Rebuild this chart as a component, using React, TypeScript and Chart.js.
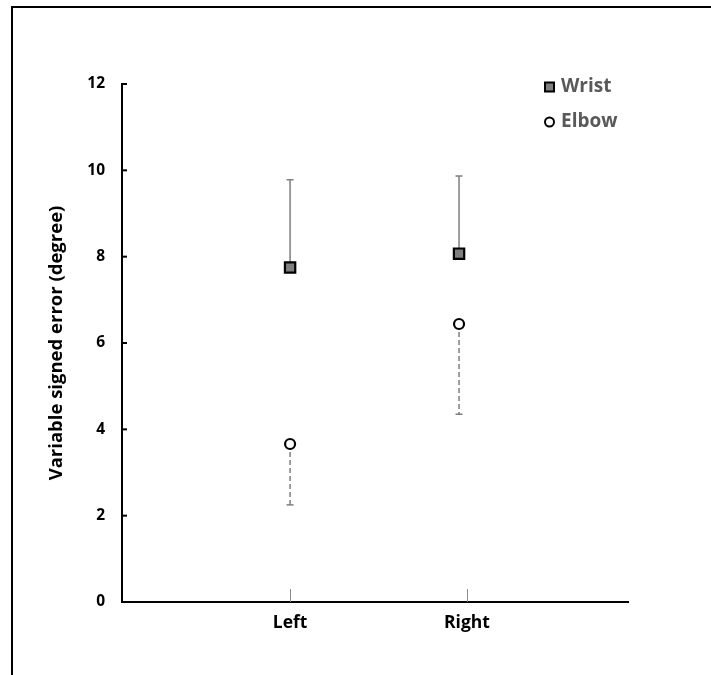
import React, { useEffect, useRef } from "react";
import { Chart, registerables } from "chart.js";

Chart.register(...registerables);

const categories = ["Left", "Right"];
const categoryPositions = [1, 1.955];
const yTicks = [0, 2, 4, 6, 8, 10, 12];
const wristMean = [7.75, 8.07];
const wristSD = [2.03, 1.8];
const elbowMean = [3.66, 6.44];
const elbowSD = [1.41, 2.09];

const FONT = "'Open Sans', sans-serif";

const errorBarPlugin = {
  id: "errorBars",
  beforeDatasetsDraw(chart: any) {
    const { ctx, scales } = chart;
    const xs = scales.x;
    const ys = scales.y;
    ctx.save();
    ctx.strokeStyle = "#7f7f7f";
    ctx.lineWidth = 1.5;
    categoryPositions.forEach((cx, i) => {
      const px = xs.getPixelForValue(cx);
      const y0 = ys.getPixelForValue(wristMean[i]);
      const y1 = ys.getPixelForValue(wristMean[i] + wristSD[i]);
      ctx.setLineDash([]);
      ctx.beginPath();
      ctx.moveTo(px, y0);
      ctx.lineTo(px, y1);
      ctx.moveTo(px - 3.5, y1);
      ctx.lineTo(px + 3.5, y1);
      ctx.stroke();
    });
    categoryPositions.forEach((cx, i) => {
      const px = xs.getPixelForValue(cx);
      const y0 = ys.getPixelForValue(elbowMean[i]);
      const y1 = ys.getPixelForValue(elbowMean[i] - elbowSD[i]);
      ctx.setLineDash([5, 3]);
      ctx.beginPath();
      ctx.moveTo(px, y0);
      ctx.lineTo(px, y1);
      ctx.stroke();
      ctx.setLineDash([]);
      ctx.beginPath();
      ctx.moveTo(px - 3.5, y1);
      ctx.lineTo(px + 3.5, y1);
      ctx.stroke();
    });
    ctx.restore();
  },
  afterDraw(chart: any) {
    const { ctx, scales, chartArea } = chart;
    const xs = scales.x;
    const ys = scales.y;
    ctx.save();
    ctx.strokeStyle = "#000";
    ctx.lineWidth = 2;
    yTicks.forEach((v) => {
      if (v === 0) return;
      const py = ys.getPixelForValue(v);
      ctx.beginPath();
      ctx.moveTo(chartArea.left, py);
      ctx.lineTo(chartArea.left + 5, py);
      ctx.stroke();
    });
    ctx.strokeStyle = "#8c8c8c";
    ctx.lineWidth = 1;
    [1, 2].forEach((v) => {
      const px = Math.round(xs.getPixelForValue(v)) + 0.5;
      ctx.beginPath();
      ctx.moveTo(px, chartArea.bottom);
      ctx.lineTo(px, chartArea.bottom - 13);
      ctx.stroke();
    });
    // legend
    const lx = 549.5;
    ctx.fillStyle = "#7f7f7f";
    ctx.strokeStyle = "#000";
    ctx.lineWidth = 2;
    ctx.fillRect(lx - 4.5, 82.5, 9, 9);
    ctx.strokeRect(lx - 4.5, 82.5, 9, 9);
    ctx.beginPath();
    ctx.fillStyle = "#fff";
    ctx.arc(lx, 122, 4.5, 0, Math.PI * 2);
    ctx.fill();
    ctx.stroke();
    ctx.fillStyle = "#595959";
    ctx.font = `bold 19px ${FONT}`;
    ctx.textBaseline = "middle";
    ctx.textAlign = "left";
    ctx.fillText("Wrist", 561, 87);
    ctx.fillText("Elbow", 561, 122);
    ctx.restore();
  },
};

export default function App() {
  const ref = useRef<HTMLCanvasElement | null>(null);
  useEffect(() => {
    if (!ref.current) return;
    const chart = new Chart(ref.current, {
      type: "scatter",
      data: {
        datasets: [
          {
            label: "Wrist",
            data: categoryPositions.map((x, i) => ({ x, y: wristMean[i] })),
            pointStyle: "rect",
            pointRadius: 7.3,
            pointBackgroundColor: "#7f7f7f",
            pointBorderColor: "#000",
            pointBorderWidth: 2.2,
          },
          {
            label: "Elbow",
            data: categoryPositions.map((x, i) => ({ x, y: elbowMean[i] })),
            pointStyle: "circle",
            pointRadius: 5,
            pointBackgroundColor: "#fff",
            pointBorderColor: "#000",
            pointBorderWidth: 2.2,
          },
        ],
      },
      plugins: [errorBarPlugin],
      options: {
        animation: false,
        responsive: false,
        devicePixelRatio: 1,
        layout: { padding: { left: 42, top: 84, right: 83, bottom: 0 } },
        plugins: {
          legend: { display: false },
          tooltip: { enabled: false },
        },
        scales: {
          x: {
            type: "linear",
            min: 0.05,
            max: 2.91,
            grid: { display: false, drawTicks: false },
            border: { display: true, color: "#000", width: 2 },
            afterBuildTicks: (scale: any) => {
              scale.ticks = [{ value: 1 }, { value: 2 }];
            },
            afterFit: (scale: any) => {
              scale.height = 73;
            },
            ticks: {
              padding: 11,
              color: "#000",
              font: { family: FONT, size: 17.5, weight: "bold" },
              callback: (v: any) => categories[Math.round(v) - 1] ?? "",
            },
          },
          y: {
            min: 0,
            max: 12,
            grid: { display: false, drawTicks: false },
            border: { display: true, color: "#000", width: 2 },
            afterBuildTicks: (scale: any) => {
              scale.ticks = yTicks.map((value) => ({ value }));
            },
            afterFit: (scale: any) => {
              scale.width = 122 - 42;
            },
            ticks: {
              padding: 17,
              color: "#000",
              font: { family: FONT, size: 15.5, weight: "bold" },
            },
            title: {
              display: true,
              text: "Variable signed error (degree)",
              color: "#000",
              padding: { top: 4, bottom: 4 },
              font: { family: FONT, size: 18.5, weight: "bold" },
            },
          },
        },
      },
    });
    return () => chart.destroy();
  }, []);

  return (
    <div
      style={{
        position: "absolute",
        left: 0,
        top: 0,
        width: 711,
        height: 675,
        background: "#fff",
        overflow: "hidden",
      }}
    >
      <div
        style={{
          position: "absolute",
          left: 11,
          top: 6,
          width: 700,
          height: 669,
          borderTop: "2px solid #000",
          borderLeft: "2px solid #000",
          boxSizing: "border-box",
        }}
      />
      <canvas
        ref={ref}
        width={711}
        height={675}
        style={{ position: "absolute", left: 0, top: 0, width: 711, height: 675 }}
      />
    </div>
  );
}
